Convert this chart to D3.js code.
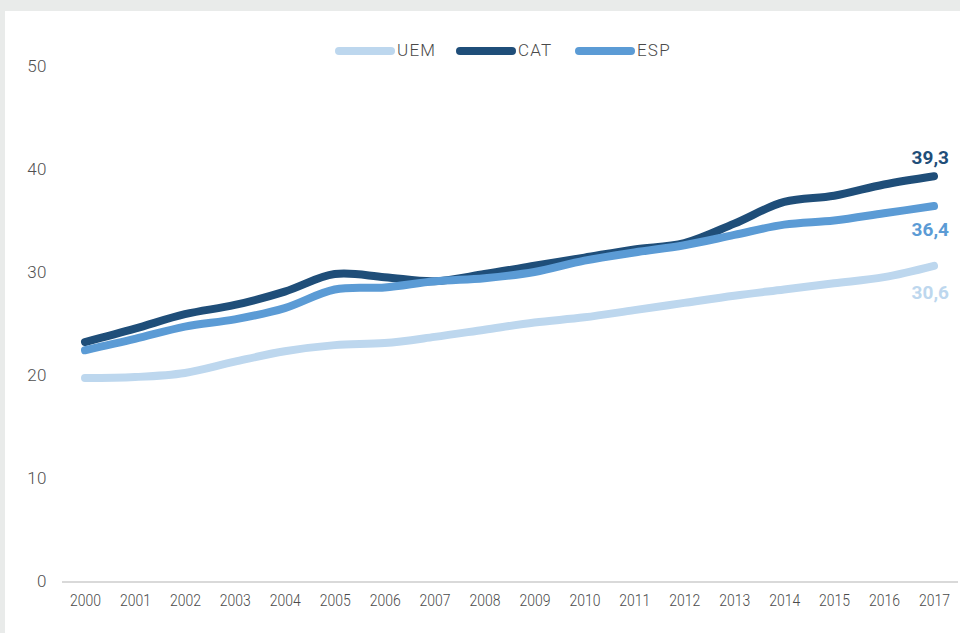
<!DOCTYPE html>
<html>
<head>
<meta charset="utf-8">
<script src="https://cdn.jsdelivr.net/npm/d3@7"></script>
<style>
  html, body { margin: 0; padding: 0; background: #e9ebea; }
  svg { display: block; }
</style>
</head>
<body>
<svg id="chart" width="960" height="633"></svg>
<script>
// Years on the horizontal axis
const years = [2000, 2001, 2002, 2003, 2004, 2005, 2006, 2007, 2008,
               2009, 2010, 2011, 2012, 2013, 2014, 2015, 2016, 2017];

// Series values
const uem = [19.7, 19.8, 20.2, 21.3, 22.3, 22.9, 23.1, 23.7, 24.4,
             25.1, 25.6, 26.3, 27.0, 27.7, 28.3, 28.9, 29.5, 30.6];
const cat = [23.2, 24.5, 25.9, 26.8, 28.1, 29.8, 29.5, 29.1, 29.8,
             30.6, 31.4, 32.2, 32.8, 34.7, 36.8, 37.4, 38.5, 39.3];
const esp = [22.4, 23.5, 24.7, 25.4, 26.5, 28.3, 28.5, 29.1, 29.4,
             30.0, 31.1, 31.9, 32.6, 33.6, 34.6, 35.0, 35.7, 36.4];

const seriesNames = ["UEM", "CAT", "ESP"];
const yTicks = [0, 10, 20, 30, 40, 50];

const colors = { UEM: "#bdd7ee", CAT: "#1f4e79", ESP: "#5b9bd5" };
const seriesData = { UEM: uem, CAT: cat, ESP: esp };

const svg = d3.select("#chart");
const W = 960, H = 633;

// white panel framed by a grey band on the top and left
svg.append("rect").attr("x", 0).attr("y", 0).attr("width", W).attr("height", H).attr("fill", "#e9ebea");
svg.append("rect").attr("x", 5).attr("y", 11).attr("width", W - 5).attr("height", H - 11).attr("fill", "#ffffff");

const x = d3.scalePoint().domain(years).range([85, 934]);
const y = d3.scaleLinear().domain([0, 50]).range([581, 66]);

const font = "Roboto, 'Liberation Sans', sans-serif";

// y axis labels (no axis line)
const yAxis = d3.axisLeft(y).tickValues(yTicks).tickSize(0).tickPadding(0).tickFormat(d3.format("d"));
const gy = svg.append("g").attr("transform", "translate(47,0)").call(yAxis);
gy.select(".domain").remove();
gy.selectAll("text")
  .attr("fill", "#505050")
  .attr("font-family", font)
  .attr("font-weight", 300)
  .attr("font-size", 17)
  .attr("letter-spacing", 0.5)
  .attr("dy", "0.32em");

// x axis: light grey baseline and year labels
const xAxis = d3.axisBottom(x).tickSize(0).tickPadding(0).tickFormat(d3.format("d"));
const gx = svg.append("g").attr("transform", `translate(0,${y(0)})`).call(xAxis);
gx.select(".domain").remove();
gx.append("line")
  .attr("x1", 62).attr("x2", 958)
  .attr("y1", 1).attr("y2", 1)
  .attr("stroke", "#d9d9d9").attr("stroke-width", 2);
gx.selectAll(".tick text")
  .attr("fill", "#4a4a4a")
  .attr("font-family", font)
  .attr("font-weight", 300)
  .attr("font-size", 16)
  .attr("y", 25)
  .attr("dy", 0)
  .attr("textLength", 31)
  .attr("lengthAdjust", "spacingAndGlyphs");

// smoothed series lines
const line = d3.line()
  .x((d, i) => x(years[i]))
  .y(d => y(d))
  .curve(d3.curveCatmullRom.alpha(0.5));

svg.append("g")
  .selectAll("path")
  .data(seriesNames)
  .join("path")
  .attr("d", name => line(seriesData[name]))
  .attr("fill", "none")
  .attr("stroke", name => colors[name])
  .attr("stroke-width", 8)
  .attr("stroke-linecap", "round")
  .attr("stroke-linejoin", "round");

// value labels at the last year
const last = years.length - 1;
const labelOffset = { UEM: 33, CAT: -12, ESP: 30 };
const fmt = v => d3.format(".1f")(v).replace(".", ",");
svg.append("g")
  .selectAll("text")
  .data(seriesNames)
  .join("text")
  .attr("x", 949)
  .attr("y", name => y(seriesData[name][last]) + labelOffset[name])
  .attr("text-anchor", "end")
  .attr("font-family", font)
  .attr("font-weight", "bold")
  .attr("font-size", 19)
  .attr("fill", name => colors[name])
  .text(name => fmt(seriesData[name][last]));

// legend
const legendX = { UEM: 335, CAT: 456, ESP: 575 };
const leg = svg.append("g")
  .selectAll("g")
  .data(seriesNames)
  .join("g")
  .attr("transform", name => `translate(${legendX[name]},51)`);
leg.append("line")
  .attr("x1", 4).attr("x2", 56)
  .attr("y1", 0).attr("y2", 0)
  .attr("stroke", name => colors[name])
  .attr("stroke-width", 8)
  .attr("stroke-linecap", "round");
leg.append("text")
  .attr("x", 62)
  .attr("y", 5)
  .attr("font-family", font)
  .attr("font-weight", 300)
  .attr("font-size", 17)
  .attr("letter-spacing", 1.2)
  .attr("fill", "#4a4a4a")
  .text(name => name);
</script>
</body>
</html>
